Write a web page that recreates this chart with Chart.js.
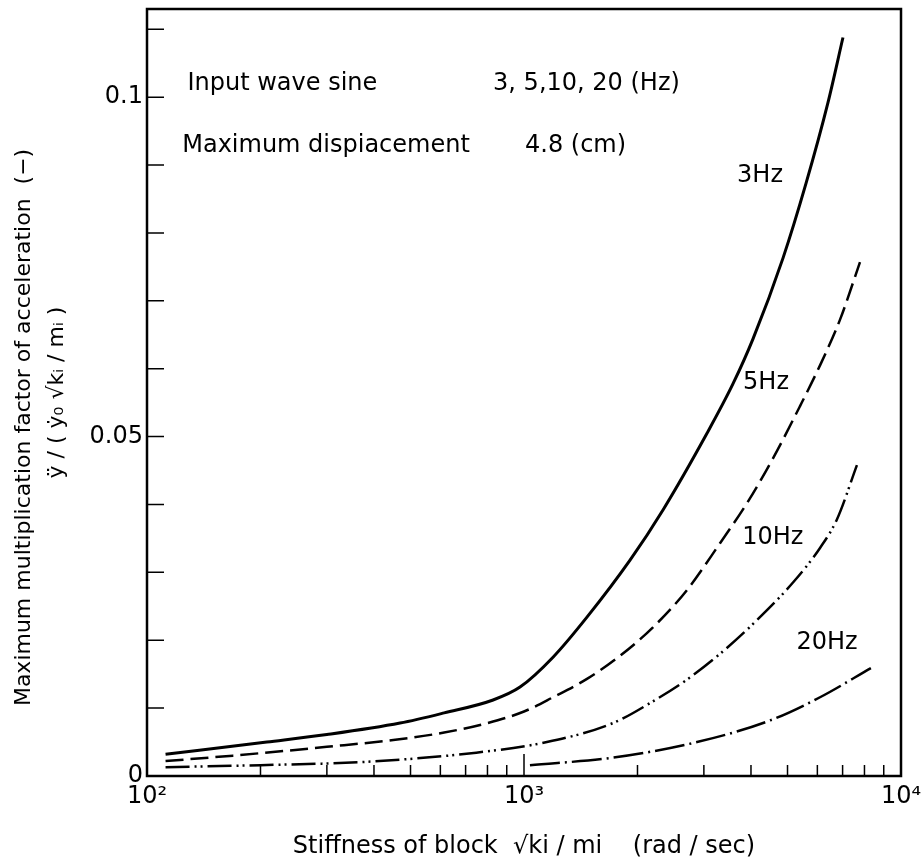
<!DOCTYPE html>
<html>
<head>
<meta charset="utf-8">
<script src="https://cdn.jsdelivr.net/npm/chart.js@4.4.1/dist/chart.umd.min.js"></script>
<style>
  body { margin: 0; background: #fff; }
  canvas { display: block; }
</style>
</head>
<body>
<canvas id="myChart" width="924" height="865"></canvas>
<script>
// stiffness sqrt(ki/mi) in rad/sec (x) and max multiplication factor (y)
var hz3X = [112, 208, 300, 469, 614, 828, 976, 1194, 1469, 1911, 2337, 3058, 3585, 4050, 4864, 5598, 6401, 7016];
var hz3Y = [0.0032, 0.0050, 0.0061, 0.0078, 0.0093, 0.0112, 0.0131, 0.0175, 0.0234, 0.0318, 0.0392, 0.0505, 0.0578, 0.0644, 0.0763, 0.0873, 0.0992, 0.1088];

var hz5X = [112, 169, 300, 450, 614, 800, 1000, 1194, 1469, 1797, 2198, 2706, 3311, 3904, 4576, 5397, 6098, 6887, 7784];
var hz5Y = [0.0022, 0.0030, 0.0043, 0.0053, 0.0064, 0.0078, 0.0095, 0.0116, 0.0143, 0.0177, 0.0219, 0.0274, 0.0343, 0.0402, 0.0468, 0.0545, 0.0605, 0.0672, 0.0757];

var hz10X = [112, 200, 384, 736, 1150, 1722, 2198, 2706, 3311, 4050, 5170, 6098, 6761, 7640];
var hz10Y = [0.0013, 0.0016, 0.0021, 0.0034, 0.0050, 0.0078, 0.0110, 0.0142, 0.0180, 0.0224, 0.0285, 0.0336, 0.0378, 0.0458];

var hz20X = [1037, 1722, 2877, 4500, 6098, 8320];
var hz20Y = [0.0016, 0.0027, 0.0050, 0.0082, 0.0116, 0.0159];

// axis ticks
var xLabelVals = [100, 1000, 10000];
var xTickLabels = ['10²', '10³', '10⁴'];
var xMinorTicks = [200, 300, 400, 500, 600, 700, 800, 900, 1000, 2000, 3000, 4000, 5000, 6000, 7000, 8000, 9000];
var yLabelVals = [0, 0.05, 0.1];
var yTickLabels = ['0', '0.05', '0.1'];
var yMinorTicks = [0.01, 0.02, 0.03, 0.04, 0.05, 0.06, 0.07, 0.08, 0.09, 0.1, 0.11];

// texts inside the plot (data coordinates)
var noteText = ['Input wave sine', '3, 5,10, 20 (Hz)', 'Maximum dispiacement', '4.8 (cm)'];
var noteX = [128, 828, 124, 1006];
var noteY = [0.102, 0.102, 0.0929, 0.0929];
var curveText = ['3Hz', '5Hz', '10Hz', '20Hz'];
var curveX = [4228, 4385, 4571, 6368];
var curveY = [0.0885, 0.0579, 0.0351, 0.0196];

function pts(xs, ys) {
    var out = [];
    for (var i = 0; i < xs.length; i++) {
        out.push({x: xs[i], y: ys[i]});
    }
    return out;
}

var FONT = '"DejaVu Sans", sans-serif';

var frameAndText = {
    id: 'frameAndText',
    afterDatasetsDraw: function(chart) {
        var ctx = chart.ctx, a = chart.chartArea;
        var xs = chart.scales.x, ys = chart.scales.y;
        ctx.save();
        ctx.strokeStyle = '#000';
        ctx.lineWidth = 2.5;
        ctx.strokeRect(a.left, a.top, a.right - a.left, a.bottom - a.top);

        ctx.lineWidth = 1.5;
        ctx.beginPath();
        yMinorTicks.forEach(function(v) {
            var p = ys.getPixelForValue(v);
            ctx.moveTo(a.left, p);
            ctx.lineTo(a.left + 17, p);
        });
        xMinorTicks.forEach(function(v) {
            var p = xs.getPixelForValue(v);
            var len = (v === 1000) ? 22 : 11;
            ctx.moveTo(p, a.bottom);
            ctx.lineTo(p, a.bottom - len);
        });
        ctx.stroke();

        ctx.fillStyle = '#000';
        ctx.font = '24px ' + FONT;
        ctx.textBaseline = 'middle';
        ctx.textAlign = 'left';
        for (var i = 0; i < noteText.length; i++) {
            ctx.fillText(noteText[i], xs.getPixelForValue(noteX[i]), ys.getPixelForValue(noteY[i]));
        }
        ctx.textAlign = 'center';
        for (var j = 0; j < curveText.length; j++) {
            ctx.fillText(curveText[j], xs.getPixelForValue(curveX[j]), ys.getPixelForValue(curveY[j]));
        }
        ctx.restore();
    }
};

function line(label, xs, ys, dash, width) {
    return {
        label: label,
        data: pts(xs, ys),
        borderColor: '#000',
        borderWidth: width,
        borderDash: dash,
        pointRadius: 0,
        fill: false,
        cubicInterpolationMode: 'monotone'
    };
}

var ctx = document.getElementById('myChart').getContext('2d');
var chart = new Chart(ctx, {
    type: 'line',
    data: {
        datasets: [
            line('3Hz', hz3X, hz3Y, [], 3),
            line('5Hz', hz5X, hz5Y, [18, 7], 2.5),
            line('10Hz', hz10X, hz10Y, [24, 5, 2, 4, 2, 5], 2.5),
            line('20Hz', hz20X, hz20Y, [30, 5, 2, 5], 2.5)
        ]
    },
    options: {
        responsive: false,
        animation: false,
        layout: { padding: { top: 9, right: 23, bottom: 0, left: 0 } },
        plugins: {
            legend: { display: false },
            tooltip: { enabled: false }
        },
        scales: {
            x: {
                type: 'logarithmic',
                min: 100,
                max: 10000,
                grid: { display: false, drawTicks: false },
                border: { display: false },
                afterBuildTicks: function(s) {
                    s.ticks = xLabelVals.map(function(v) { return {value: v}; });
                },
                afterFit: function(s) {
                    s.height = 89;
                    s.paddingLeft = 0;
                    s.paddingRight = 0;
                },
                ticks: {
                    autoSkip: false,
                    maxRotation: 0,
                    padding: 6,
                    color: '#000',
                    font: { family: FONT, size: 24 },
                    callback: function(v) { return xTickLabels[xLabelVals.indexOf(v)]; }
                },
                title: {
                    display: true,
                    text: 'Stiffness of block  √ki / mi    (rad / sec)',
                    color: '#000',
                    font: { family: FONT, size: 24 },
                    padding: { top: 11, bottom: 4 }
                }
            },
            y: {
                type: 'linear',
                min: 0,
                max: 0.113,
                grid: { display: false, drawTicks: false },
                border: { display: false },
                afterBuildTicks: function(s) {
                    s.ticks = yLabelVals.map(function(v) { return {value: v}; });
                },
                afterFit: function(s) {
                    s.width = 147;
                    s.paddingTop = 0;
                    s.paddingBottom = 0;
                },
                ticks: {
                    padding: 4,
                    color: '#000',
                    font: { family: FONT, size: 24 },
                    callback: function(v) { return yTickLabels[yLabelVals.indexOf(v)]; }
                },
                title: {
                    display: true,
                    text: ['Maximum multiplication factor of acceleration  (−)          ',
                           'ÿ / ( ẏ₀ √kᵢ / mᵢ )'],
                    color: '#000',
                    font: { family: FONT, size: 22, lineHeight: 1.5 },
                    padding: { top: 8, bottom: 0 }
                }
            }
        }
    },
    plugins: [frameAndText]
});
</script>
</body>
</html>
